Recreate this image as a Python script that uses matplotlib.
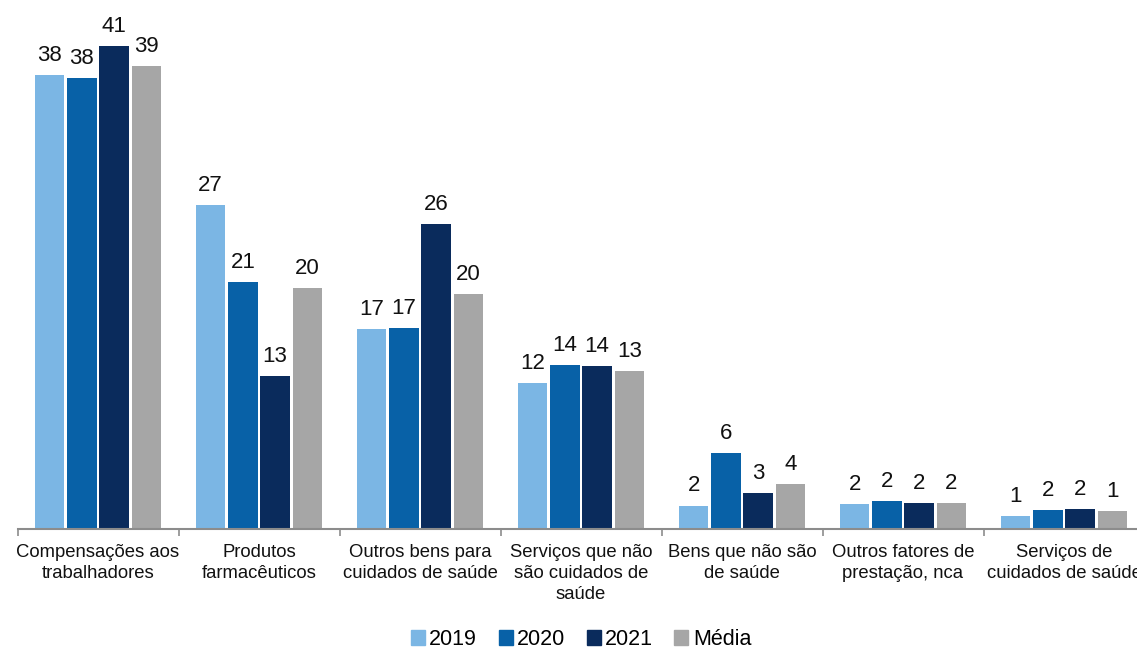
import numpy as np
import matplotlib
matplotlib.use("Agg")
import matplotlib.pyplot as plt
from matplotlib.patches import Patch

plt.rcParams["font.family"] = ["Liberation Sans", "DejaVu Sans"]

categories = [
    "Compensações aos\ntrabalhadores",
    "Produtos\nfarmacêuticos",
    "Outros bens para\ncuidados de saúde",
    "Serviços que não\nsão cuidados de\nsaúde",
    "Bens que não são\nde saúde",
    "Outros fatores de\nprestação, nca",
    "Serviços de\ncuidados de saúde",
]
series_names = ["2019", "2020", "2021", "Média"]
v2019 = [38.3, 27.3, 16.85, 12.3, 1.94, 2.07, 1.08]
v2020 = [38.0, 20.8, 16.9, 13.8, 6.4, 2.3, 1.56]
v2021 = [40.7, 12.9, 25.7, 13.7, 2.98, 2.15, 1.67]
vmedia = [39.0, 20.3, 19.8, 13.25, 3.74, 2.15, 1.45]
colors = ["#7bb6e4", "#0861a7", "#0a2b5c", "#a6a6a6"]

W, H = 1137, 649
fig = plt.figure(figsize=(W / 100, H / 100), dpi=100)
left, right, base = 17.5, 1144.5, 528.5
ymax = 44.6
ax = fig.add_axes([left / W, 1 - base / H, (right - left) / W, base / H])

x = np.arange(len(categories))
step = 0.2
for i, (name, vals, col) in enumerate(zip(series_names, [v2019, v2020, v2021, vmedia], colors)):
    pos = x + (i - 1.5) * step
    ax.bar(pos, vals, width=0.182, color=col, label=name, zorder=2)
    for px, v in zip(pos, vals):
        ax.annotate(f"{v:.0f}", (px, v), xytext=(0, 6.5), textcoords="offset points",
                    ha="center", va="bottom", fontsize=16, color="#111111",
                    annotation_clip=False)

ax.set_xlim(-0.5, len(categories) - 0.5)
ax.set_ylim(0, ymax)
ax.set_yticks([])
for s in ["top", "right", "left"]:
    ax.spines[s].set_visible(False)
ax.spines["bottom"].set_color("#8c8c8c")
ax.spines["bottom"].set_linewidth(1.5)

ax.set_xticks(x)
ax.set_xticklabels(categories, fontsize=13.3, color="#111111", linespacing=1.3)
ax.tick_params(axis="x", which="major", length=0, pad=11)
ax.set_xticks(np.arange(-0.5, len(categories)), minor=True)
ax.tick_params(axis="x", which="minor", length=5, width=1.2, color="#8c8c8c")

handles = [Patch(color=c) for c in colors]
fig.legend(handles, series_names, loc="center", bbox_to_anchor=(581 / W, 9.5 / H),
           ncol=4, frameon=False, fontsize=15.5, handlelength=0.65, handleheight=0.65,
           handletextpad=0.2, columnspacing=1.0, borderpad=0.2)

fig.savefig("out.png", dpi=100)
